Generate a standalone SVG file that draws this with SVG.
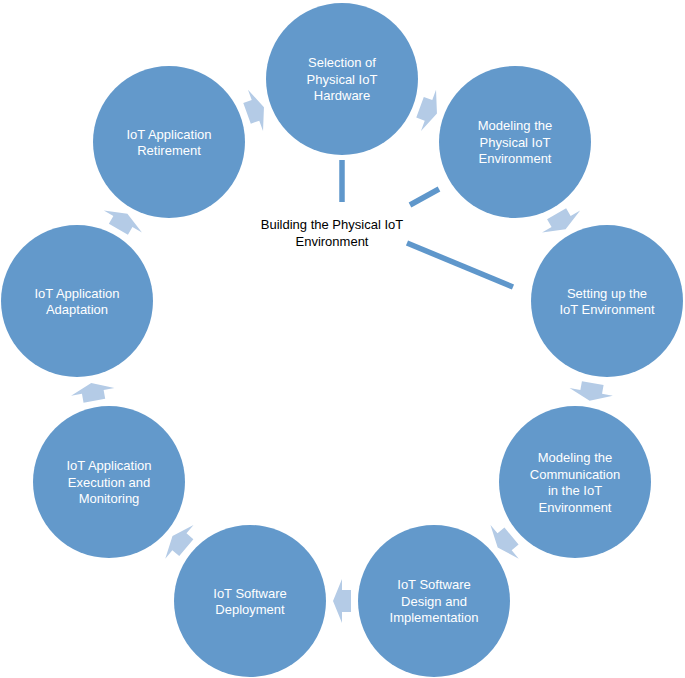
<svg xmlns="http://www.w3.org/2000/svg" width="685" height="678" viewBox="0 0 685 678">
<style>
.node circle{fill:#6399cb}
.node text{fill:#ffffff;font-family:"Liberation Sans",Arial,sans-serif;font-size:13px;text-anchor:middle}
.arr{fill:#b4cbe6}
.ln{stroke:#5f97cb;stroke-width:5.5;fill:none}
.lbl{fill:#000000;font-family:"Liberation Sans",Arial,sans-serif;font-size:13px;text-anchor:middle}
</style>
<defs>
<path id="ba" d="M-9,-11 L0,-11 L0,-22 L9,0 L0,22 L0,11 L-9,11 Z"/>
</defs>
<rect width="685" height="678" fill="#ffffff"/>
<g id="connectors">
<use href="#ba" class="arr" transform="translate(428.5,110.3) rotate(20)"/>
<use href="#ba" class="arr" transform="translate(561.1,221.5) rotate(60)"/>
<use href="#ba" class="arr" transform="translate(591.2,391.9) rotate(100)"/>
<use href="#ba" class="arr" transform="translate(504.6,541.8) rotate(140)"/>
<use href="#ba" class="arr" transform="translate(342,601) rotate(180)"/>
<use href="#ba" class="arr" transform="translate(179.4,541.8) rotate(220)"/>
<use href="#ba" class="arr" transform="translate(92.8,391.9) rotate(260)"/>
<use href="#ba" class="arr" transform="translate(122.9,221.5) rotate(300)"/>
<use href="#ba" class="arr" transform="translate(255.5,110.3) rotate(340)"/>
<line class="ln" x1="342" y1="160" x2="342" y2="202"/>
<line class="ln" x1="410" y1="205" x2="439" y2="189"/>
<line class="ln" x1="407" y1="243" x2="513" y2="287"/>
</g>
<g id="n1" class="node"><circle cx="342" cy="79" r="76"/>
<text x="342" y="67">Selection of</text><text x="342" y="83.5">Physical IoT</text><text x="342" y="100">Hardware</text></g>
<g id="n2" class="node"><circle cx="515" cy="142" r="76"/>
<text x="515" y="130">Modeling the</text><text x="515" y="146.5">Physical IoT</text><text x="515" y="163">Environment</text></g>
<g id="n3" class="node"><circle cx="607" cy="301" r="76"/>
<text x="607" y="297.5">Setting up the</text><text x="607" y="314">IoT Environment</text></g>
<g id="n4" class="node"><circle cx="575" cy="482" r="76"/>
<text x="575" y="462">Modeling the</text><text x="575" y="478.5">Communication</text><text x="575" y="495">in the IoT</text><text x="575" y="511.5">Environment</text></g>
<g id="n5" class="node"><circle cx="434" cy="601" r="76"/>
<text x="434" y="589">IoT Software</text><text x="434" y="605.5">Design and</text><text x="434" y="622">Implementation</text></g>
<g id="n6" class="node"><circle cx="250" cy="601" r="76"/>
<text x="250" y="597.5">IoT Software</text><text x="250" y="614">Deployment</text></g>
<g id="n7" class="node"><circle cx="109" cy="482" r="76"/>
<text x="109" y="470">IoT Application</text><text x="109" y="486.5">Execution and</text><text x="109" y="503">Monitoring</text></g>
<g id="n8" class="node"><circle cx="77" cy="301" r="76"/>
<text x="77" y="297.5">IoT Application</text><text x="77" y="314">Adaptation</text></g>
<g id="n9" class="node"><circle cx="169" cy="142" r="76"/>
<text x="169" y="138.5">IoT Application</text><text x="169" y="155">Retirement</text></g>
<g id="label">
<text class="lbl" x="332" y="228.5">Building the Physical IoT</text>
<text class="lbl" x="332" y="245.5">Environment</text>
</g>
</svg>
